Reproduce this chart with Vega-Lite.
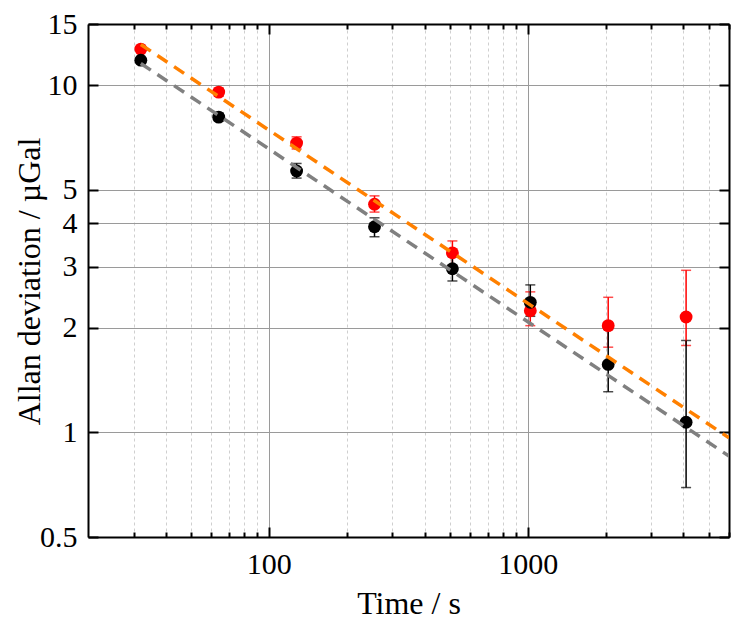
{
  "$schema": "https://vega.github.io/schema/vega-lite/v6.json",
  "autosize": "none",
  "width": 641,
  "height": 513,
  "padding": {"left": 88, "top": 24, "right": 19, "bottom": 96},
  "background": "white",
  "datasets": {
    "adev": [
      {"series": "run2", "tau": 32, "sigma": 12.7, "lo": 12.5, "hi": 12.9},
      {"series": "run2", "tau": 64, "sigma": 9.55, "lo": 9.3, "hi": 9.8},
      {"series": "run2", "tau": 128, "sigma": 6.81, "lo": 6.55, "hi": 7.1},
      {"series": "run2", "tau": 256, "sigma": 4.54, "lo": 4.31, "hi": 4.8},
      {"series": "run2", "tau": 512, "sigma": 3.29, "lo": 3.02, "hi": 3.56},
      {"series": "run2", "tau": 1024, "sigma": 2.24, "lo": 2.03, "hi": 2.54},
      {"series": "run2", "tau": 2048, "sigma": 2.03, "lo": 1.76, "hi": 2.45},
      {"series": "run2", "tau": 4096, "sigma": 2.15, "lo": 1.78, "hi": 2.93},
      {"series": "run1", "tau": 32, "sigma": 11.8, "lo": 11.6, "hi": 12.0},
      {"series": "run1", "tau": 64, "sigma": 8.09, "lo": 7.9, "hi": 8.3},
      {"series": "run1", "tau": 128, "sigma": 5.66, "lo": 5.4, "hi": 5.95},
      {"series": "run1", "tau": 256, "sigma": 3.91, "lo": 3.66, "hi": 4.15},
      {"series": "run1", "tau": 512, "sigma": 2.96, "lo": 2.73, "hi": 3.21},
      {"series": "run1", "tau": 1024, "sigma": 2.37, "lo": 2.16, "hi": 2.66},
      {"series": "run1", "tau": 2048, "sigma": 1.57, "lo": 1.31, "hi": 1.98},
      {"series": "run1", "tau": 4096, "sigma": 1.07, "lo": 0.694, "hi": 1.84}
    ],
    "fits": [
      {"fit": "fit1", "tau": 32, "sigma": 11.55},
      {"fit": "fit1", "tau": 6000, "sigma": 0.855},
      {"fit": "fit2", "tau": 32, "sigma": 13.1},
      {"fit": "fit2", "tau": 6000, "sigma": 0.965}
    ]
  },
  "layer": [
    {
      "data": {"name": "adev"},
      "mark": {"type": "errorbar", "ticks": {"size": 10, "thickness": 1.5}, "rule": {"strokeWidth": 1.5}},
      "encoding": {
        "x": {"field": "tau", "type": "quantitative", "scale": {"type": "log", "domain": [20, 6000], "nice": false}, "axis": null},
        "y": {"field": "lo", "type": "quantitative", "scale": {"type": "log", "domain": [0.5, 15], "nice": false}, "axis": null},
        "y2": {"field": "hi"},
        "color": {"field": "series", "type": "nominal", "scale": {"domain": ["run1", "run2"], "range": ["#000000", "#ff0000"]}, "legend": null}
      }
    },
    {
      "data": {"name": "adev"},
      "mark": {"type": "point", "filled": true, "opacity": 1, "size": 165},
      "encoding": {
        "x": {
          "field": "tau", "type": "quantitative",
          "scale": {"type": "log", "domain": [20, 6000], "nice": false},
          "title": "Time / s",
          "axis": {
            "orient": "bottom",
            "values": [30, 40, 50, 60, 70, 80, 90, 100, 200, 300, 400, 500, 600, 700, 800, 900, 1000, 2000, 3000, 4000, 5000, 6000],
            "labelExpr": "datum.value == 100 || datum.value == 1000 ? format(datum.value, 'd') : ''",
            "grid": true,
            "gridColor": {"condition": {"test": "datum.value == 100 || datum.value == 1000", "value": "#9a9a9a"}, "value": "#cfcfcf"},
            "gridDash": {"condition": {"test": "datum.value == 100 || datum.value == 1000", "value": []}, "value": [3, 3]},
            "gridWidth": 1,
            "tickSize": {"condition": {"test": "datum.value == 100 || datum.value == 1000", "value": -10}, "value": -5},
            "tickColor": "#000000",
            "tickWidth": 2,
            "domainColor": "#000000",
            "domainWidth": 2,
            "labelPadding": 22,
            "labelFlush": false,
            "labelOverlap": false,
            "titleBaseline": "alphabetic",
            "titleY": 76
          }
        },
        "y": {
          "field": "sigma", "type": "quantitative",
          "scale": {"type": "log", "domain": [0.5, 15], "nice": false},
          "title": "Allan deviation / µGal",
          "axis": {
            "orient": "left",
            "values": [0.5, 1, 2, 3, 4, 5, 10, 15],
            "format": "~g",
            "grid": true,
            "gridColor": "#9a9a9a",
            "gridWidth": 1,
            "tickSize": -10,
            "tickColor": "#000000",
            "tickWidth": 2,
            "domainColor": "#000000",
            "domainWidth": 2,
            "labelPadding": 21,
            "labelFlush": false,
            "labelOverlap": false,
            "titleBaseline": "alphabetic",
            "titleAlign": "center",
            "titleX": -49,
            "titleY": 257
          }
        },
        "color": {"field": "series", "type": "nominal", "scale": {"domain": ["run1", "run2"], "range": ["#000000", "#ff0000"]}, "legend": null}
      }
    },
    {
      "data": {"name": "fits"},
      "mark": {"type": "line", "strokeWidth": 3.5, "strokeDash": [12, 8], "clip": true},
      "encoding": {
        "x": {
          "field": "tau", "type": "quantitative",
          "scale": {"type": "log", "domain": [20, 6000], "nice": false},
          "title": null,
          "axis": {
            "orient": "top",
            "values": [30, 40, 50, 60, 70, 80, 90, 100, 200, 300, 400, 500, 600, 700, 800, 900, 1000, 2000, 3000, 4000, 5000, 6000],
            "labels": false,
            "grid": false,
            "tickSize": {"condition": {"test": "datum.value == 100 || datum.value == 1000", "value": -10}, "value": -5},
            "tickColor": "#000000",
            "tickWidth": 2,
            "domainColor": "#000000",
            "domainWidth": 2
          }
        },
        "y": {
          "field": "sigma", "type": "quantitative",
          "scale": {"type": "log", "domain": [0.5, 15], "nice": false},
          "title": null,
          "axis": {
            "orient": "right",
            "values": [0.5, 1, 2, 3, 4, 5, 10, 15],
            "labels": false,
            "grid": false,
            "tickSize": -10,
            "tickColor": "#000000",
            "tickWidth": 2,
            "domainColor": "#000000",
            "domainWidth": 2
          }
        },
        "color": {"field": "fit", "type": "nominal", "scale": {"domain": ["fit1", "fit2"], "range": ["#808080", "#ff8000"]}, "legend": null}
      }
    }
  ],
  "resolve": {
    "scale": {"color": "independent"},
    "axis": {"x": "independent", "y": "independent"}
  },
  "config": {
    "view": {"stroke": null},
    "font": "Liberation Serif",
    "axis": {
      "labelFont": "Liberation Serif",
      "labelFontSize": 30,
      "labelColor": "#000000",
      "titleFont": "Liberation Serif",
      "titleFontSize": 32,
      "titleFontWeight": "normal",
      "titleColor": "#000000"
    }
  }
}
